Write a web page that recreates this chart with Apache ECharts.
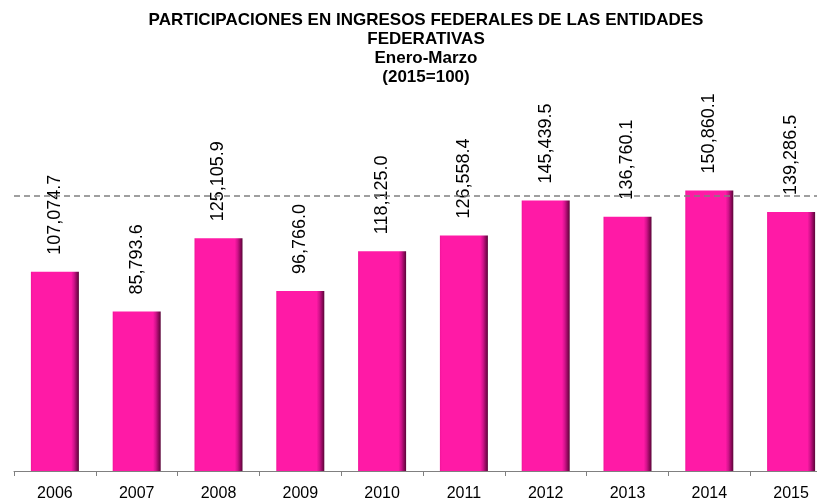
<!DOCTYPE html>
<html>
<head>
<meta charset="utf-8">
<script src="https://cdn.jsdelivr.net/npm/echarts@6/dist/echarts.min.js"></script>
<style>
  html, body { margin: 0; padding: 0; background: #fff; overflow: hidden; }
  /* the plot runs past the right edge in the original, so the canvas is wider than the window */
  #chart { width: 832px; height: 502px; }
</style>
</head>
<body>
<div id="chart"></div>
<script>
// datos Enero-Marzo (2015=100)
const years = ['2006', '2007', '2008', '2009', '2010', '2011', '2012', '2013', '2014', '2015'];
const participaciones = [107074.7, 85793.6, 125105.9, 96766.0, 118125.0, 126558.4, 145439.5, 136760.1, 150860.1, 139286.5];
const refLine = 148000;

const myChart = echarts.init(document.getElementById('chart'));

const barColor = new echarts.graphic.LinearGradient(0, 0, 1, 0, [
  { offset: 0, color: '#f0159a' },
  { offset: 0.04, color: '#ff1aa6' },
  { offset: 0.84, color: '#ff1aa6' },
  { offset: 0.9, color: '#d0128a' },
  { offset: 0.96, color: '#8a0858' },
  { offset: 1, color: '#5a0538' }
]);

const fmt = v => v.toLocaleString('en-US', { minimumFractionDigits: 1, maximumFractionDigits: 1 });

const option = {
  animation: false,
  backgroundColor: '#ffffff',
  title: {
    text: 'PARTICIPACIONES EN INGRESOS FEDERALES DE LAS ENTIDADES\nFEDERATIVAS\nEnero-Marzo\n(2015=100)',
    left: 421,
    top: 6,
    textAlign: 'center',
    textStyle: {
      fontFamily: 'Liberation Sans, Arial, sans-serif',
      fontSize: 17,
      fontWeight: 'bold',
      color: '#000',
      lineHeight: 19
    }
  },
  grid: { left: 14, right: 0, top: 99, bottom: 30 },
  xAxis: {
    type: 'category',
    data: years,
    axisLine: { lineStyle: { color: '#808080', width: 1 } },
    axisTick: { show: true, length: 5, lineStyle: { color: '#808080' } },
    axisLabel: {
      color: '#000',
      fontFamily: 'Liberation Sans, Arial, sans-serif',
      fontSize: 16,
      margin: 15
    }
  },
  yAxis: {
    type: 'value',
    min: 0,
    max: 200000,
    show: false,
    splitLine: { show: false }
  },
  series: [
    {
      type: 'bar',
      data: participaciones,
      barWidth: 48,
      itemStyle: { color: barColor },
      label: {
        show: true,
        position: 'top',
        rotate: 90,
        align: 'left',
        verticalAlign: 'middle',
        distance: 17,
        color: '#000',
        fontFamily: 'Liberation Sans, Arial, sans-serif',
        fontSize: 18,
        formatter: p => fmt(p.value)
      },
      markLine: {
        silent: true,
        symbol: 'none',
        label: { show: false },
        lineStyle: { color: '#808080', type: [6, 4], width: 1.5 },
        data: [{ yAxis: refLine }]
      },
      z: 2
    }
  ]
};

option && myChart.setOption(option);
</script>
</body>
</html>
